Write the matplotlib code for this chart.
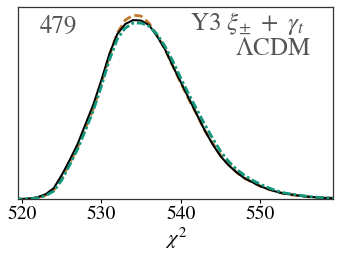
import numpy as np
import matplotlib
matplotlib.use("Agg")
import matplotlib.pyplot as plt

plt.rcParams["font.family"] = ["STIXGeneral", "DejaVu Serif"]
plt.rcParams["mathtext.fontset"] = "stix"

# chi^2 grid and curve heights (arbitrary units)
chi2 = np.arange(519, 561)
black = [0, 0.2, 0.6, 2, 5, 11, 24, 39, 55, 75, 95, 119, 145, 165, 175, 179,
         178.5, 174, 163, 150, 133, 117, 101, 85, 69, 55, 43, 34, 27, 21, 17,
         13, 10, 7.5, 5.5, 4.5, 3.3, 2.4, 1.8, 1.3, 1.0, 0.8]
orange = [0, 0.1, 0.4, 1.5, 4, 9, 21, 36, 52, 71, 91, 116, 143, 166, 179, 184,
          183, 176, 164, 150, 133, 116, 100, 85, 69, 56, 44, 35, 27, 21, 17,
          13, 10, 7.5, 5.5, 4.3, 3.2, 2.4, 1.8, 1.3, 1.0, 0.8]
green = [0, 0.1, 0.4, 1.3, 3.5, 8, 19, 34, 50, 69, 89, 113, 139, 160, 171, 176,
         176, 173, 165, 153, 138, 121, 105, 90, 75, 61, 48, 38, 30, 24, 19,
         15, 11.5, 8.5, 6.3, 5.0, 3.8, 2.8, 2.0, 1.5, 1.1, 0.9]

xticks = [520, 530, 540, 550]

fig = plt.figure(figsize=(3.41, 2.62), dpi=100)
ax = fig.add_axes([0.053, 0.240, 0.924, 0.733])

ax.plot(chi2, black, color="black", lw=1.5, zorder=3)
ax.plot(chi2, orange, color="#c47a2c", lw=2.0, ls=(0, (3, 1.5)), zorder=2)
ax.plot(chi2, green, color="#12967c", lw=2.0, ls=(0, (3, 1, 1, 1)), zorder=4)

ax.set_xlim(519.5, 559.2)
ax.set_ylim(0, 192)
ax.set_yticks([])
ax.set_xticks(xticks)
ax.tick_params(axis="x", labelsize=14, length=3, width=0.8, pad=2)
for s in ax.spines.values():
    s.set_color("#333333")
    s.set_linewidth(0.9)

ax.set_xlabel(r"$\chi^2$", fontsize=15, labelpad=2)

ax.text(0.07, 0.865, "479", transform=ax.transAxes, fontsize=18,
        color="#555555", va="baseline", ha="left")
ax.text(0.91, 0.88, r"Y3 $\xi_{\pm}\ +\ \gamma_t$", transform=ax.transAxes,
        fontsize=18, color="#555555", va="baseline", ha="right")
ax.text(0.93, 0.75, r"$\Lambda$CDM", transform=ax.transAxes,
        fontsize=18, color="#555555", va="baseline", ha="right")

fig.savefig("out.png", dpi=100)
